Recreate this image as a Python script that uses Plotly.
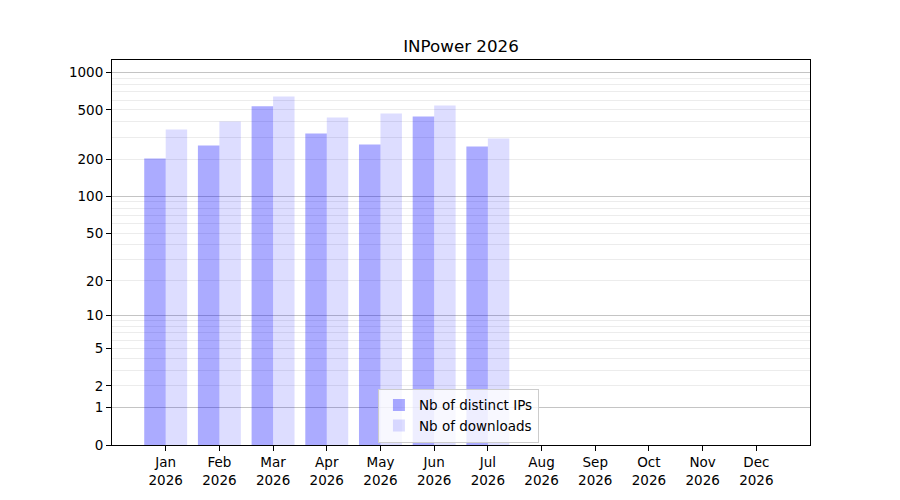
"""INPower 2026 monthly stats: distinct IPs vs downloads, log(1+x) y axis."""

import plotly.graph_objects as go

MONTHS = ["Jan", "Feb", "Mar", "Apr", "May", "Jun",
          "Jul", "Aug", "Sep", "Oct", "Nov", "Dec"]
YEAR = "2026"
DISTINCT_IPS = [202, 258, 534, 323, 263, 443, 253]
DOWNLOADS = [348, 403, 643, 435, 468, 544, 294]

# y ticks of the log(1+x) scale
TICK_VALUES = [0, 1, 2, 5, 10, 20, 50, 100, 200, 500, 1000]
MAJOR_GRID = [1, 10, 100, 1000]
MINOR_GRID = [2, 3, 4, 5, 6, 7, 8, 9,
              20, 30, 40, 50, 60, 70, 80, 90,
              200, 300, 400, 500, 600, 700, 800, 900]

labels = [f"{m}<br>{YEAR}" for m in MONTHS]
FONT = "DejaVu Sans"
YRANGE = [0, 3.102]

fig = go.Figure()
fig.add_trace(go.Bar(
    x=labels[:len(DISTINCT_IPS)], y=DISTINCT_IPS, base=1,
    name="Nb of distinct IPs", marker=dict(color="rgba(0,0,255,0.33)", line=dict(width=0)),
))
fig.add_trace(go.Bar(
    x=labels[:len(DOWNLOADS)], y=DOWNLOADS, base=1,
    name="Nb of downloads", marker=dict(color="rgba(0,0,255,0.135)", line=dict(width=0)),
))
# empty trace so the overlay axis carrying the darker grid is drawn
fig.add_trace(go.Scatter(x=[labels[0]], y=[None], yaxis="y2", showlegend=False, hoverinfo="skip"))

fig.update_layout(
    width=900, height=500,
    margin=dict(l=104, r=98, t=52, b=63),
    paper_bgcolor="white", plot_bgcolor="white",
    font=dict(family=FONT, size=13.5, color="black"),
    title=dict(text="INPower 2026", x=0.5, xref="paper", y=0.924, yref="container",
               yanchor="middle", font=dict(size=16.7, color="black")),
    barmode="group", bargap=0.2, bargroupgap=0,
    showlegend=True,
    legend=dict(x=0.381, y=0.006, xanchor="left", yanchor="bottom",
                bgcolor="rgba(255,255,255,0.8)", bordercolor="#cccccc", borderwidth=1,
                font=dict(size=13.5), tracegroupgap=0),
    xaxis=dict(
        type="category", categoryorder="array", categoryarray=labels,
        range=[-1, 12], showgrid=False, zeroline=False,
        showline=True, linecolor="black", linewidth=1, mirror=True,
        ticks="outside", ticklen=5, tickcolor="black",
    ),
    yaxis=dict(
        type="log", range=YRANGE,
        tickmode="array", tickvals=[v + 1 for v in TICK_VALUES],
        ticktext=[str(v) for v in TICK_VALUES],
        showgrid=False, zeroline=False,
        showline=True, linecolor="black", linewidth=1, mirror=True,
        ticks="outside", ticklen=5, tickcolor="black",
        minor=dict(tickmode="array", tickvals=[v + 1 for v in MINOR_GRID],
                   showgrid=True, gridcolor="#ececec", gridwidth=1, ticks=""),
    ),
    yaxis2=dict(
        type="log", range=YRANGE, overlaying="y", side="left",
        tickmode="array", tickvals=[v + 1 for v in MAJOR_GRID],
        showticklabels=False, ticks="", showline=False, zeroline=False,
        showgrid=True, gridcolor="#c4c4c4", gridwidth=1,
    ),
)

fig.write_html("out.html")
